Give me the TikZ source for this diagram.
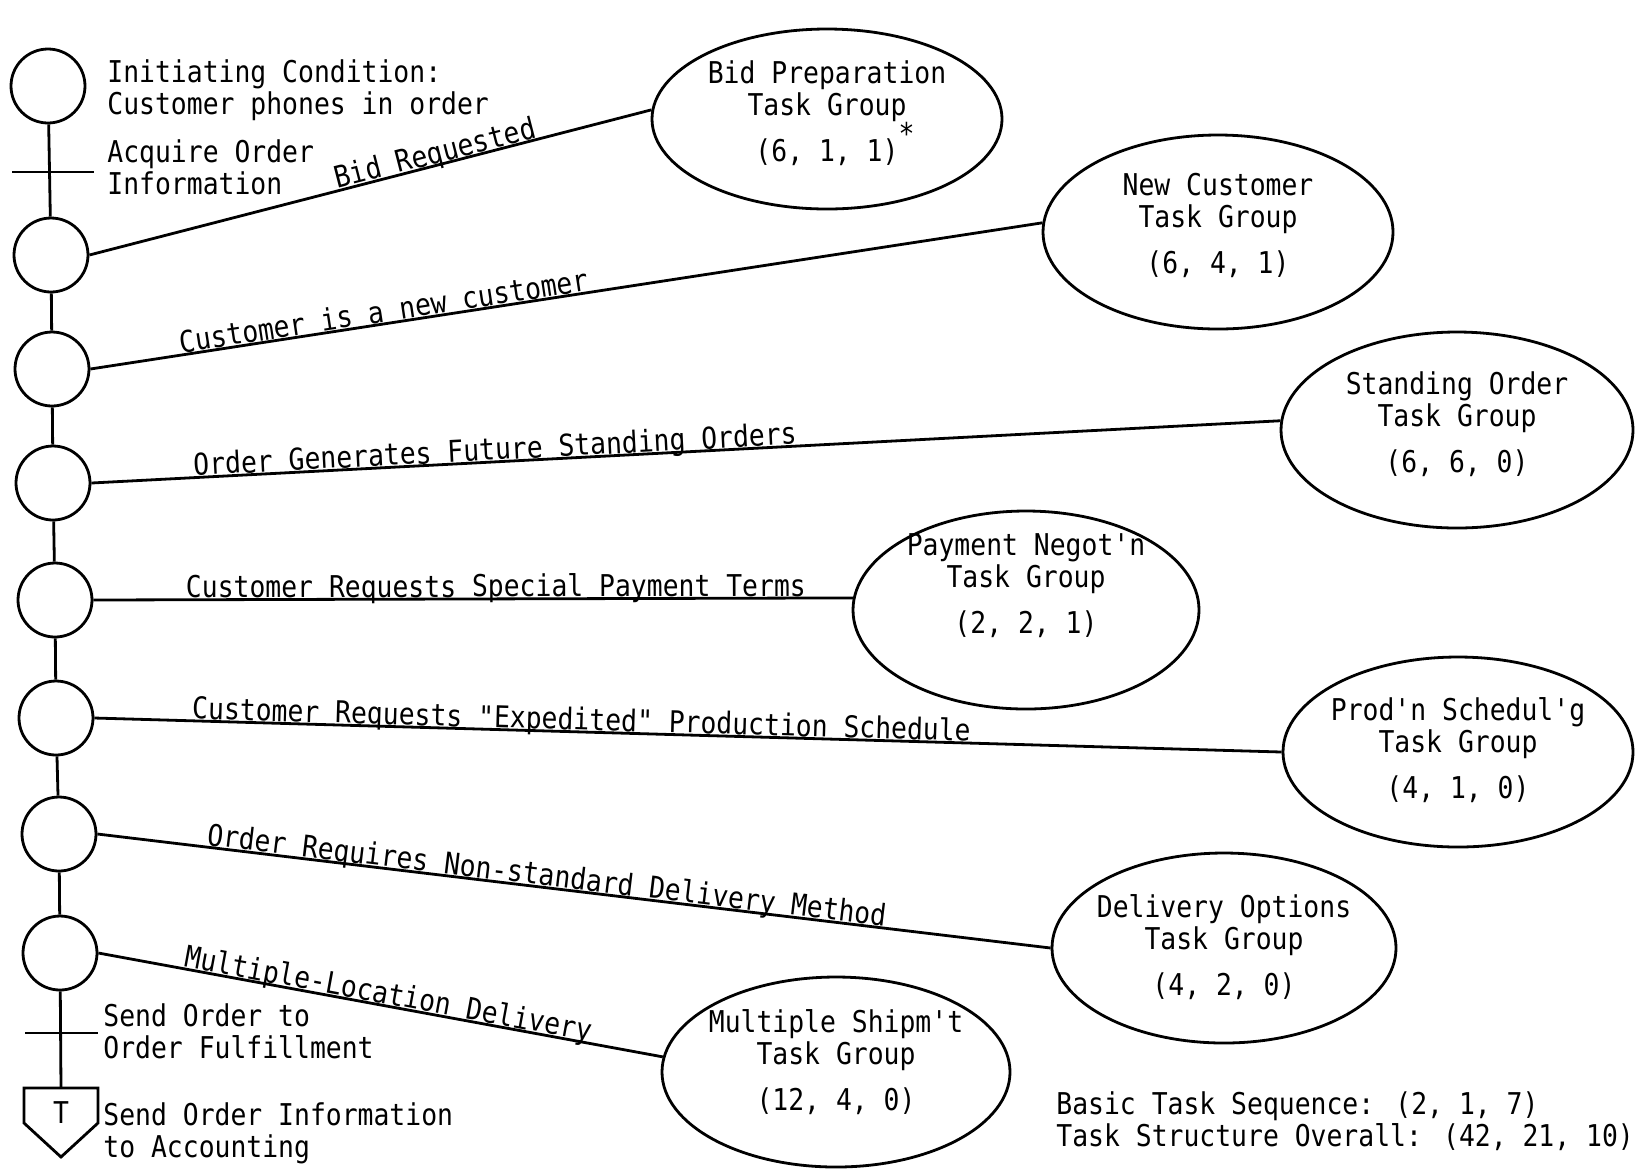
\documentclass[tikz,border=0pt]{standalone}
\usepackage{fontspec}
\newfontfamily\twfont[FakeStretch=0.88,Ligatures=TeXOff]{DejaVu Sans Mono}
\usetikzlibrary{shapes.geometric}
\begin{document}
\begin{tikzpicture}[x=0.5pt,y=-0.5pt, line width=1.4pt,
  every node/.style={font=\twfont\fontsize{15}{16}\selectfont},
  ring/.style={draw, circle, minimum size=37pt, inner sep=0pt},
  ell/.style={draw, ellipse, inner sep=0pt},
  etext/.style={align=center, inner sep=0pt},
  side/.style={align=left, anchor=west, inner sep=0pt},
  lbl/.style={sloped, anchor=base, inner sep=0pt, yshift=1pt}]
\fill[white] (0,0) rectangle (1636,1169);
\useasboundingbox (0,0) rectangle (1636,1169);

% event circles
\node[ring] (c1) at (48,86) {};
\node[ring] (c2) at (51,255) {};
\node[ring] (c3) at (52,369) {};
\node[ring] (c4) at (53,483) {};
\node[ring] (c5) at (55,600) {};
\node[ring] (c6) at (56,718) {};
\node[ring] (c7) at (59,834) {};
\node[ring] (c8) at (60,953) {};

% ticks and terminal
\coordinate (k1a) at (12,172);
\coordinate (k1b) at (94,172);
\coordinate (k2a) at (25,1033);
\coordinate (k2b) at (98,1033);
\coordinate (ptop) at (61,1088);
\coordinate (p1) at (24,1088);
\coordinate (p2) at (98,1088);
\coordinate (p3) at (98,1123);
\coordinate (p4) at (61,1157);
\coordinate (p5) at (24,1123);
\draw (p1) -- (p2) -- (p3) -- (p4) -- (p5) -- cycle;
\node (tT) at (61,1113) {T};

% spine
\draw (c1) -- (c2);
\draw (c2) -- (c3);
\draw (c3) -- (c4);
\draw (c4) -- (c5);
\draw (c5) -- (c6);
\draw (c6) -- (c7);
\draw (c7) -- (c8);
\draw (c8) -- (ptop);
\draw (k1a) -- (k1b);
\draw (k2a) -- (k2b);

% side texts
\node[side] (initT) at (106,90) {Initiating Condition:\\Customer phones in order};
\node[side] (acqT) at (106,167) {Acquire Order\\Information};
\node[side] (sendT) at (102,1031) {Send Order to\\Order Fulfillment};
\node[side] (acctT) at (102,1133) {Send Order Information\\to Accounting};
\node[side] (sumT) at (1055,1121) {Basic Task Sequence: (2, 1, 7)\\Task Structure Overall: (42, 21, 10)};

% task group ellipses
\node[ell, minimum width=175pt, minimum height=90pt] (bid) at (827,119) {};
\node[ell, minimum width=175pt, minimum height=97pt] (newc) at (1218,232) {};
\node[ell, minimum width=176pt, minimum height=98pt] (stand) at (1457,430) {};
\node[ell, minimum width=173pt, minimum height=99pt] (pay) at (1026,610) {};
\node[ell, minimum width=175pt, minimum height=95pt] (prod) at (1458,752) {};
\node[ell, minimum width=172pt, minimum height=95pt] (deliv) at (1224,948) {};
\node[ell, minimum width=174pt, minimum height=95pt] (multi) at (836,1072) {};

\node[etext] (bidt) at (827,113) {Bid Preparation\\Task Group\\[7pt](6, 1, 1)\rlap{\smash{\raisebox{1.0ex}{*}}}};
\node[etext] (newct) at (1218,225) {New Customer\\Task Group\\[7pt](6, 4, 1)};
\node[etext] (standt) at (1457,424) {Standing Order\\Task Group\\[7pt](6, 6, 0)};
\node[etext] (payt) at (1026,586) {Payment Negot'n\\Task Group\\[7pt](2, 2, 1)};
\node[etext] (prodt) at (1458,750) {Prod'n Schedul'g\\Task Group\\[7pt](4, 1, 0)};
\node[etext] (delivt) at (1224,947) {Delivery Options\\Task Group\\[7pt](4, 2, 0)};
\node[etext] (multit) at (836,1062) {Multiple Shipm't\\Task Group\\[7pt](12, 4, 0)};

% condition links
\draw (c2.east) -- node[lbl,pos=0.62]{Bid Requested} (bid.177);
\draw (c3.east) -- node[lbl,pos=0.31]{Customer is a new customer} (newc.177);
\draw (c4.east) -- node[lbl,pos=0.34]{Order Generates Future Standing Orders} (stand.177);
\draw (c5.east) -- node[lbl,pos=0.53]{Customer Requests Special Payment Terms} (pay.176);
\draw (c6.east) -- node[lbl,pos=0.41]{Customer Requests "Expedited" Production Schedule} (prod.west);
\draw (c7.east) -- node[lbl,pos=0.47]{Order Requires Non-standard Delivery Method} (deliv.west);
\draw (c8.east) -- node[lbl,pos=0.51]{Multiple-Location Delivery} (multi.175);
\end{tikzpicture}
\end{document}
